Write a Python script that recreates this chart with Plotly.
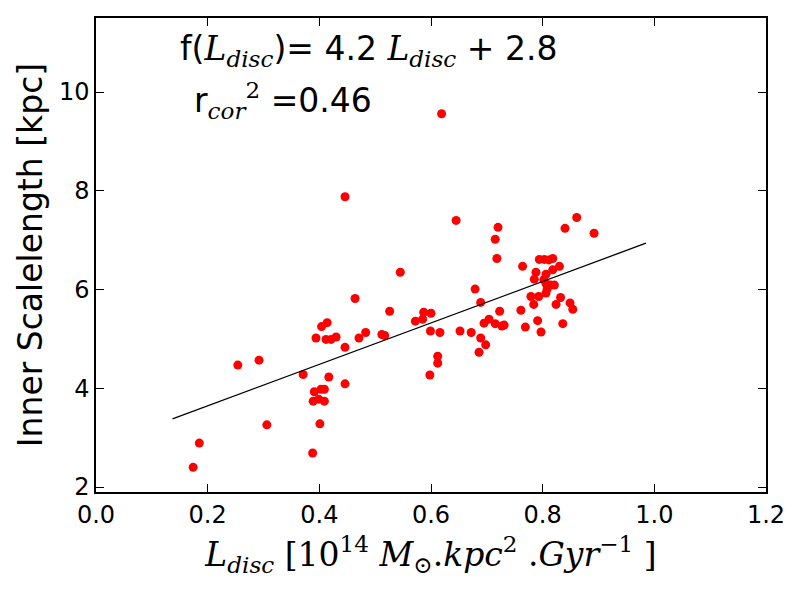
import plotly.graph_objects as go

# Data
L_disc = [0.174, 0.185, 0.254, 0.292, 0.306, 0.371, 0.388, 0.401, 0.417, 0.446,
          0.391, 0.403, 0.409, 0.389, 0.399, 0.409, 0.394, 0.404, 0.414, 0.412,
          0.421, 0.430, 0.446, 0.471, 0.483, 0.512, 0.517, 0.526, 0.464, 0.446,
          0.545, 0.572, 0.587, 0.600, 0.585, 0.599, 0.616, 0.612, 0.612, 0.598,
          0.619, 0.645, 0.652, 0.672, 0.679, 0.689, 0.689, 0.698, 0.686, 0.695,
          0.704, 0.715, 0.727, 0.731, 0.723, 0.715, 0.720, 0.718, 0.761, 0.769,
          0.764, 0.779, 0.793, 0.784, 0.791, 0.797, 0.788, 0.785, 0.794, 0.803,
          0.811, 0.818, 0.830, 0.818, 0.806, 0.802, 0.806, 0.814, 0.821, 0.808,
          0.806, 0.832, 0.824, 0.849, 0.854, 0.836, 0.840, 0.861, 0.892]
scalelength = [2.40, 2.89, 4.47, 4.57, 3.26, 4.28, 2.69, 3.28, 4.23, 4.09,
               3.93, 3.98, 3.98, 3.74, 3.78, 3.74, 5.02, 5.25, 5.33, 4.99,
               4.99, 5.04, 4.83, 5.02, 5.13, 5.09, 5.07, 5.56, 5.82, 7.88,
               6.35, 5.36, 5.54, 5.52, 5.40, 5.16, 5.13, 4.65, 4.51, 4.27,
               9.56, 7.40, 5.16, 5.13, 6.01, 5.74, 5.02, 4.88, 4.73, 5.32,
               5.40, 5.31, 5.26, 5.28, 5.56, 7.02, 7.26, 6.63, 5.58, 5.24,
               6.47, 5.86, 5.86, 5.70, 5.37, 5.14, 6.35, 6.21, 6.61, 6.61,
               6.60, 6.63, 6.47, 6.40, 6.31, 6.20, 6.12, 6.09, 6.09, 6.01,
               5.93, 5.84, 5.70, 5.73, 5.60, 5.31, 7.24, 7.46, 7.14]

fit_x = [0.137, 0.985]
fit_y = [3.38, 6.94]

x_ticks = [0.0, 0.2, 0.4, 0.6, 0.8, 1.0, 1.2]
y_ticks = [2, 4, 6, 8, 10]

serif = "DejaVu Serif"
sans = "DejaVu Sans"

def it(s):
    return f'<span style="font-family:{serif}"><i>{s}</i></span>'

def rm(s):
    return f'<span style="font-family:{serif}">{s}</span>'

fig = go.Figure()
fig.add_trace(go.Scatter(x=L_disc, y=scalelength, mode="markers",
                         marker=dict(color="#ff0000", size=9, line=dict(width=0)),
                         showlegend=False))
fig.add_trace(go.Scatter(x=fit_x, y=fit_y, mode="lines",
                         line=dict(color="black", width=1.3), showlegend=False))

axis_common = dict(showgrid=False, zeroline=False, showline=True, linecolor="black",
                   linewidth=1.5, mirror="allticks", ticks="inside", ticklen=8,
                   tickwidth=1, tickcolor="black",
                   tickfont=dict(family=sans, size=24, color="black"))

xtitle = (it("L") + "<sub>" + it("disc") + "</sub>" + rm(" [10") + "<sup>" + rm("14") + "</sup> "
          + it("M") + "<sub>" + rm("⊙") + "</sub>" + rm(".") + it("kpc")
          + "<sup>" + rm("2") + "</sup>" + rm(" .") + it("Gyr")
          + "<sup>" + rm("−1") + "</sup>" + rm(" ]"))

fig.update_xaxes(range=[0.0, 1.2], tickvals=x_ticks,
                 ticktext=[f"{v:.1f}" for v in x_ticks],
                 title=dict(text=xtitle, font=dict(family=serif, size=33, color="black"),
                            standoff=15),
                 **axis_common)
fig.update_yaxes(range=[1.9, 11.5], tickvals=y_ticks,
                 title=dict(text="Inner Scalelength [kpc]",
                            font=dict(family=sans, size=33, color="black"), standoff=6),
                 **axis_common)

fig.add_annotation(xref="paper", yref="paper", x=0.123, y=0.932, xanchor="left", yanchor="middle",
                   showarrow=False, font=dict(family=sans, size=33, color="black"),
                   text="f(" + it("L") + "<sub>" + it("disc") + "</sub>)= 4.2 " + it("L")
                        + "<sub>" + it("disc") + "</sub> + 2.8")
fig.add_annotation(xref="paper", yref="paper", x=0.143, y=0.825, xanchor="left", yanchor="middle",
                   showarrow=False, font=dict(family=sans, size=33, color="black"),
                   text="r<sub>" + it("cor") + "</sub><sup>" + rm("2") + "</sup> =0.46")

fig.update_layout(width=800, height=600, margin=dict(l=96, r=34, t=18, b=108),
                  plot_bgcolor="white", paper_bgcolor="white")

fig.write_html("out.html")
